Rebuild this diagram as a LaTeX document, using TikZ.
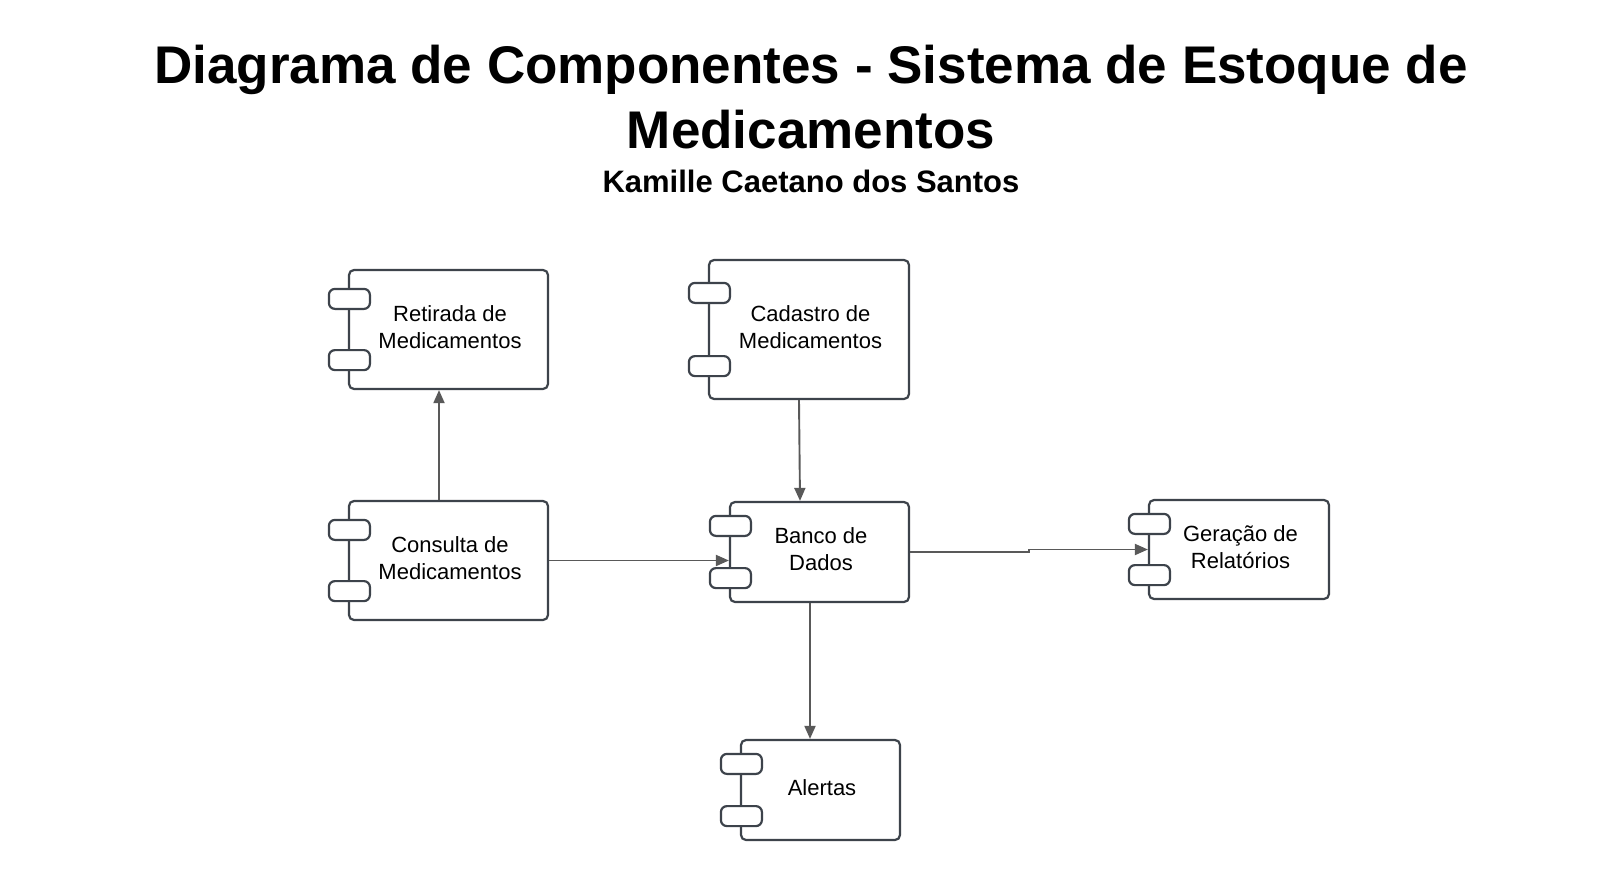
\documentclass[tikz,border=0pt]{standalone}
\usepackage{fontspec}
\setmainfont{Liberation Sans}
\usetikzlibrary{arrows.meta,calc}
\definecolor{boxline}{HTML}{3D434B}
\definecolor{arrline}{HTML}{595959}
\tikzset{
  comp/.style={draw=boxline, line width=2.2pt, rounded corners=5pt, fill=white, inner sep=0pt},
  comptext/.style={align=center, inner sep=0pt, font=\fontsize{22}{27}\selectfont},
  tabbox/.style={draw=boxline, line width=2.2pt, rounded corners=6pt, fill=white},
  arr/.style={draw=arrline, line width=1.9pt, -{Triangle[length=13pt,width=11pt]}},
  titlefont/.style={font=\fontsize{53}{64}\selectfont\bfseries, anchor=base},
}
\newcommand\comp[7]{%
  \node[comp, minimum width=#4pt, minimum height=#5pt] (#1) at (#2,#3) {};
  \node[comptext, yshift=2.5pt, xshift=1.5pt] (#1-t) at (#1.center) {#7};
  \draw[tabbox] ([xshift=-19pt,yshift=-#6pt]#1.north west) rectangle ++(41pt,-20pt);
  \draw[tabbox] ([xshift=-19pt,yshift=#6pt]#1.south west) rectangle ++(41pt,20pt);
}
\begin{document}
\begin{tikzpicture}[x=1pt,y=-1pt]
\useasboundingbox (0,0) rectangle (1620,880);
\node[titlefont] (t1) at (811,84) {Diagrama de Componentes - Sistema de Estoque de};
\node[titlefont] (t2) at (811,149) {Medicamentos};
\node[font=\fontsize{31}{36}\selectfont\bfseries, anchor=base] (t3) at (811,193) {Kamille Caetano dos Santos};

\comp{ret}{448.5}{329.5}{199}{119}{20}{Retirada de\\Medicamentos}
\comp{cad}{809}{329.5}{200}{139}{24}{Cadastro de\\Medicamentos}
\comp{con}{448.5}{560.5}{199}{119}{20}{Consulta de\\Medicamentos}
\comp{ban}{819.5}{552}{179}{100}{15}{Banco de\\Dados}
\comp{ger}{1239}{549.5}{180}{99}{15}{Geração de\\Relatórios}
\comp{ale}{820.5}{790}{159}{100}{15}{Alertas}

\draw[arr] ([xshift=-9.5pt]con.north) -- ([xshift=-9.5pt]ret.south);
\draw[arr] ([xshift=-10pt]cad.south) -- ([xshift=-19.5pt]ban.north);
\draw[arr] (con.east) -- (ban.west |- con.east);
\draw[arr] (ban.east) -- ++(119pt,0pt) |- (ger.west);
\draw[arr] ([xshift=-9.5pt]ban.south) -- ([xshift=-10.5pt]ale.north);
\end{tikzpicture}
\end{document}
